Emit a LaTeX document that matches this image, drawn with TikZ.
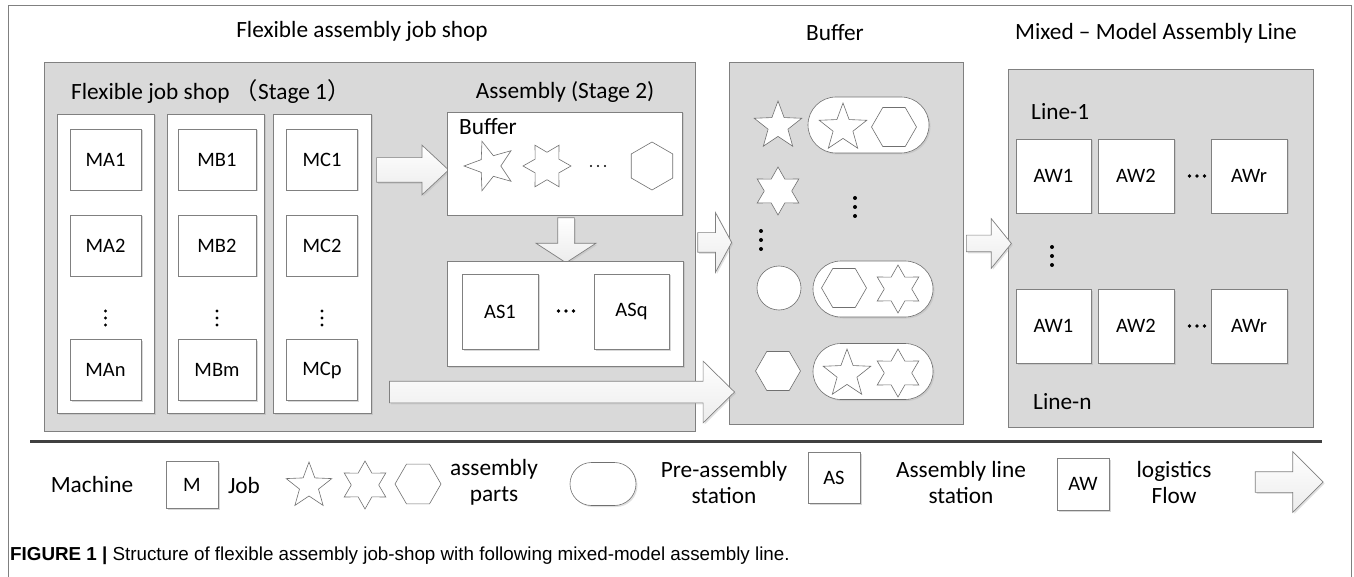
\documentclass[tikz,border=0pt]{standalone}
\usepackage{fontspec}
\setmainfont{Carlito}
\newfontfamily\cjk{Noto Sans CJK SC}
\newfontfamily\pie{Liberation Sans}
\usetikzlibrary{shapes.geometric,shapes.arrows,shapes.misc,shadows}
\definecolor{fondo}{HTML}{D9D9D9}
\definecolor{borde}{HTML}{808080}
\definecolor{trazo}{HTML}{707070}
\definecolor{linea}{HTML}{404040}

\begin{document}
\begin{tikzpicture}[x=1pt, y=-1pt,
    grande/.style={font=\fontsize{23.3}{26}\selectfont, inner sep=0pt},
    chico/.style={font=\fontsize{20.5}{23}\selectfont},
    zona/.style={draw=borde, fill=fondo, line width=0.8pt, inner sep=0pt},
    blanca/.style={draw=borde, fill=white, line width=0.8pt, inner sep=0pt,
        drop shadow={shadow xshift=1.5pt, shadow yshift=-1.5pt, fill=black!30, opacity=0.5}},
    maquina/.style={blanca, chico},
    flecha/.style={single arrow, draw=borde, top color=white, bottom color=gray!15, inner xsep=0pt, line width=0.7pt,
        drop shadow={shadow xshift=1.5pt, shadow yshift=-1.5pt, fill=black!30, opacity=0.4}},
    pieza/.style={draw=trazo, fill=white, line width=0.6pt, inner sep=0pt},
    estrella/.style={pieza, star, star points=5, star point ratio=2.4, minimum size=50},
    hexagrama/.style={pieza, star, star points=6, star point ratio=1.75, minimum size=48},
    hexagono/.style={pieza, regular polygon, regular polygon sides=6, minimum size=45},
    pildora/.style={pieza, rounded rectangle, drop shadow={shadow xshift=1.5pt, shadow yshift=-1.5pt, fill=black!30, opacity=0.4}}]
    \useasboundingbox (0,0) rectangle (1354,577);
    % marco
    \draw[borde, line width=1pt] (8,577) -- (8,6) -- (1351,6) -- (1351,577);
    % titulos
    \node[grande] (t1) at (362,31) {Flexible assembly job shop};
    \node[grande] (t2) at (835,33) {Buffer};
    \node[grande] (t3) at (1156,33) {Mixed – Model Assembly Line};
    % zonas grises
    \node[zona, minimum width=651, minimum height=369] (fajs) at (369.5,246.5) {};
    \node[zona, minimum width=234, minimum height=362] (buf) at (846,243) {};
    \node[zona, minimum width=305, minimum height=358] (mal) at (1160.5,248) {};
    % etapa 1
    \node[grande, anchor=west] (e1) at (71,92) {Flexible job shop {\cjk （}Stage 1{\cjk ）}};
    \node[blanca, minimum width=97, minimum height=299] (ca) at (105.5,263.5) {};
    \node[blanca, minimum width=97, minimum height=299] (cb) at (215.5,263.5) {};
    \node[blanca, minimum width=98, minimum height=299] (cc) at (322,263.5) {};
    \node[maquina, minimum width=71, minimum height=61] (ma1) at (105.5,159.5) {MA1};
    \node[maquina, minimum width=71, minimum height=61] (ma2) at (105.5,245.5) {MA2};
    \node[maquina, minimum width=71, minimum height=61] (man) at (105.5,370) {MAn};
    \node[maquina, minimum width=78, minimum height=61] (mb1) at (217,159.5) {MB1};
    \node[maquina, minimum width=78, minimum height=61] (mb2) at (217,245.5) {MB2};
    \node[maquina, minimum width=78, minimum height=61] (mbm) at (217,370) {MBm};
    \node[maquina, minimum width=71, minimum height=61] (mc1) at (322,159.5) {MC1};
    \node[maquina, minimum width=71, minimum height=61] (mc2) at (322,245.5) {MC2};
    \node[maquina, minimum width=71, minimum height=61] (mcp) at (322,370) {MCp};
    \foreach \cx in {105.5,217,322}
        \foreach \dy in {-7,0,7}
            \fill (\cx,318+\dy) circle (1.6);
    \node[flecha, inner ysep=12, minimum height=72, minimum width=49, single arrow head extend=12.5, single arrow tip angle=86] (f1) at (406,170) {};
    % etapa 2
    \node[grande] (e2) at (565,92) {Assembly (Stage 2)};
    \node[blanca, minimum width=235, minimum height=103] (bs) at (564.5,163.5) {};
    \node[grande, anchor=west] (lb) at (459,127) {Buffer};
    \node[estrella, minimum size=52, shape border rotate=90] (s1) at (490,166) {};
    \node[hexagrama, shape border rotate=90] (s2) at (547,166) {};
    \foreach \dx in {-7,0,7}
        \fill (598+\dx,166) circle (1.2);
    \node[hexagono, minimum size=48, shape border rotate=90] (s3) at (652,166) {};
    \node[flecha, inner sep=8, shape border rotate=270, minimum height=45, minimum width=59, single arrow head extend=21.5, single arrow tip angle=114] (f2) at (566,237.5) {};
    \node[blanca, minimum width=236, minimum height=105] (as) at (565,313.5) {};
    \node[maquina, minimum width=76, minimum height=75] (as1) at (500,311.5) {AS1};
    \node[maquina, minimum width=75, minimum height=75] (asq) at (631.5,311.5) {ASq};
    \foreach \dx in {-7.5,0,7.5}
        \fill (566+\dx,311) circle (1.9);
    \node[flecha, inner ysep=10.5, minimum height=345, minimum width=61, single arrow head extend=20, single arrow tip angle=89] (f3) at (556.5,392) {};
    \node[flecha, inner ysep=9.5, minimum height=34, minimum width=59, single arrow head extend=20, single arrow tip angle=123] (f4) at (712,242.5) {};
    % buffer
    \node[estrella] (b1) at (778,126) {};
    \node[pildora, minimum width=121, minimum height=56] (q1) at (868.5,125) {};
    \node[estrella] (b2) at (843,128) {};
    \node[hexagono] (b3) at (894,127) {};
    \node[hexagrama] (b4) at (778,191) {};
    \foreach \dy in {-9,0,9}
        \fill (855,207+\dy) circle (2);
    \foreach \dy in {-9,0,9}
        \fill (761,240+\dy) circle (2);
    \node[pieza, circle, minimum size=44] (b5) at (779,288) {};
    \node[pildora, minimum width=120, minimum height=56] (q2) at (873,289) {};
    \node[hexagono] (b6) at (844,288) {};
    \node[hexagrama] (b7) at (898,289) {};
    \node[hexagono] (b8) at (778,371) {};
    \node[pildora, minimum width=120, minimum height=56] (q3) at (873,371.5) {};
    \node[estrella] (b9) at (847,374) {};
    \node[hexagrama] (b10) at (898,373) {};
    \node[flecha, inner ysep=8, minimum height=45, minimum width=49, single arrow head extend=16.5, single arrow tip angle=102] (f5) at (985.5,243.5) {};
    % linea mixta
    \node[grande, anchor=west] (l1) at (1031,112) {Line-1};
    \node[maquina, minimum width=75, minimum height=74] (aw11) at (1053.5,176) {AW1};
    \node[maquina, minimum width=76, minimum height=74] (aw12) at (1136,176) {AW2};
    \node[maquina, minimum width=76, minimum height=74] (aw1r) at (1249,176) {AWr};
    \node[maquina, minimum width=75, minimum height=74] (awn1) at (1053.5,326) {AW1};
    \node[maquina, minimum width=76, minimum height=74] (awn2) at (1136,326) {AW2};
    \node[maquina, minimum width=76, minimum height=74] (awnr) at (1249,326) {AWr};
    \foreach \cy in {176,326}
        \foreach \dx in {-7.5,0,7.5}
            \fill (1197+\dx,\cy) circle (1.9);
    \foreach \dy in {-9,0,9}
        \fill (1052,256+\dy) circle (2);
    \node[grande, anchor=west] (ln) at (1033,402) {Line-n};
    % separador
    \draw[linea, line width=3pt] (30,441) -- (1322,441);
    % leyenda
    \node[grande] (lm) at (92,484) {Machine};
    \node[maquina, minimum width=52, minimum height=47] (lmb) at (192,485) {M};
    \node[grande] (lj) at (244,485) {Job};
    \node[estrella, minimum size=48] (le1) at (309,486) {};
    \node[hexagrama] (le2) at (365,485) {};
    \node[hexagono, minimum size=46] (le3) at (418,484) {};
    \node[grande, align=center] (lp) at (494,482) {assembly\\parts};
    \node[pildora, minimum width=66, minimum height=43] (lq) at (603,484) {};
    \node[grande, align=center] (lpa) at (724,482) {Pre-assembly\\station};
    \node[maquina, minimum width=52, minimum height=51] (las) at (834,478) {AS};
    \node[grande, align=center] (lal) at (961,482) {Assembly line\\station};
    \node[maquina, minimum width=52, minimum height=52] (law) at (1083,484) {AW};
    \node[grande, align=center] (llf) at (1174,482) {logistics\\Flow};
    \node[flecha, inner ysep=10, minimum height=68, minimum width=60, single arrow head extend=20, single arrow tip angle=90] (lf) at (1284,482) {};
    % pie de figura
    \node[anchor=west, inner sep=0pt, font=\pie\fontsize{18.8}{21}\selectfont] (cap) at (10,556) {\textbf{FIGURE 1 |} Structure of flexible assembly job-shop with following mixed-model assembly line.};
\end{tikzpicture}
\end{document}
